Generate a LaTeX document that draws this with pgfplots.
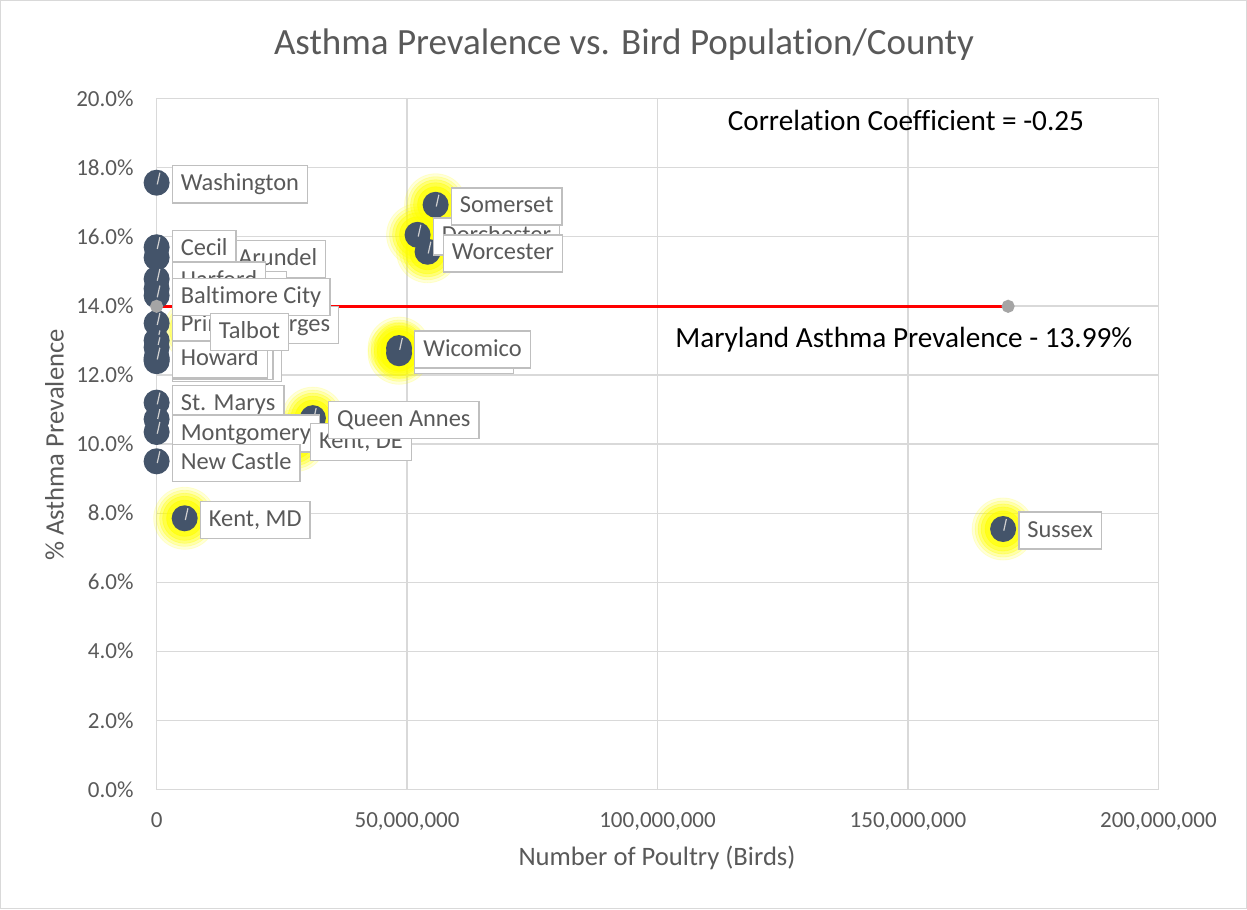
\documentclass[border=0pt]{standalone}
\usepackage{pgfplots}
\pgfplotsset{compat=1.18}
\usepackage{fontspec}
\setmainfont{Carlito}[Ligatures=NoCommon]
\definecolor{navy}{HTML}{44546A}
\definecolor{gridc}{HTML}{D9D9D9}
\definecolor{txt}{HTML}{595959}
\definecolor{lbl}{HTML}{BFBFBF}
\definecolor{dotg}{HTML}{A5A5A5}
\definecolor{glow}{HTML}{FFFF00}
\definecolor{markline}{HTML}{D0D0D0}
\pgfdeclareplotmark{clock}{%
  \pgfpathcircle{\pgfpointorigin}{\pgfplotmarksize}%
  \pgfusepath{fill}%
  \pgfsetstrokecolor{markline}%
  \pgfsetlinewidth{0.6pt}%
  \pgfpathmoveto{\pgfpoint{0.05\pgfplotmarksize}{-0.13\pgfplotmarksize}}%
  \pgfpathlineto{\pgfpoint{0.25\pgfplotmarksize}{0.77\pgfplotmarksize}}%
  \pgfusepath{stroke}%
}
\pgfplotstableread{
x y
169000000 7.54
55700000 16.93
52100000 16.06
54100000 15.57
48400000 12.63
48400000 12.78
27600000 10.10
31200000 10.75
5600000 7.85
7600000 13.30
}\glowdata
\begin{document}
\begin{tikzpicture}
\begin{axis}[
  scale only axis, width=500.5pt, height=345pt,
  xmin=0, xmax=200000000, ymin=0, ymax=20,
  xtick={0,50000000,100000000,150000000,200000000},
  ytick={0,2,4,6,8,10,12,14,16,18,20},
  scaled x ticks=false,
  grid=major, major grid style={gridc, line width=0.6pt},
  axis line style={gridc, line width=0.6pt},
  major tick length=0pt,
  clip=false,
  /pgf/number format/assume math mode=true,
  x tick label style={font=\fontsize{11.5}{13}\selectfont, text=txt, yshift=-8pt,
     /pgf/number format/fixed, /pgf/number format/precision=0, /pgf/number format/1000 sep={,}},
  y tick label style={font=\fontsize{11.5}{13}\selectfont, text=txt, xshift=-8pt},
  yticklabel={\pgfmathprintnumber[fixed,fixed zerofill,precision=1]{\tick}\%},
  every node near coord/.append style={anchor=west, xshift=7.5pt, yshift=-0.8pt, draw=lbl, line width=0.7pt,
     fill=white, text=txt, font=\fontsize{12.2}{14}\selectfont, inner xsep=4.25pt, inner ysep=3.5pt,
     text height=9pt, text depth=2.5pt},
]
% glow
\addplot[only marks, mark=*, color=glow, opacity=0.15, mark size=15.5pt] table[x=x,y=y] {\glowdata};
\addplot[only marks, mark=*, color=glow, opacity=0.2, mark size=14pt] table[x=x,y=y] {\glowdata};
\addplot[only marks, mark=*, color=glow, opacity=0.3, mark size=12.5pt] table[x=x,y=y] {\glowdata};
\addplot[only marks, mark=*, color=glow, opacity=0.4, mark size=11pt] table[x=x,y=y] {\glowdata};
\addplot[only marks, mark=*, color=glow, opacity=0.6, mark size=9pt] table[x=x,y=y] {\glowdata};
% markers
\addplot[only marks, mark=clock, mark size=6.5pt, mark options={fill=navy, draw=navy}] coordinates {
  (0,17.57) (0,15.40) (0,15.70) (0,14.50) (0,14.78) (0,13.50) (0,14.30)
  (7600000,13.30) (0,13.00) (0,12.80) (0,12.40) (0,12.45) (0,12.50) (0,11.20) (0,10.72) (0,10.35) (0,9.50)
  (5600000,7.85) (52100000,16.06) (55700000,16.93) (54100000,15.57) (48400000,12.63) (48400000,12.78)
  (27600000,10.10) (31200000,10.75) (169000000,7.54)
};
% labels
\addplot[only marks, mark=none, point meta=explicit symbolic, nodes near coords] coordinates {
  (0,17.57) [Washington]
  (0,15.40) [Anne Arundel]
  (0,15.70) [Cecil]
  (0,14.50) [Baltimore]
  (0,14.78) [Harford]
  (0,13.50) [Prince Georges]
  (0,14.30) [Baltimore City]
  (0,12.40) [Frederick]
  (0,12.45) [Allegany]
  (0,12.50) [Howard]
  (7600000,13.30) [Talbot]
  (0,11.20) [St. Marys]
  (0,10.35) [Montgomery]
  (0,9.50) [New Castle]
  (5600000,7.85) [{Kent, MD}]
  (52100000,16.06) [Dorchester]
  (55700000,16.93) [Somerset]
  (54100000,15.57) [Worcester]
  (48400000,12.63) [Caroline]
  (48400000,12.78) [Wicomico]
  (27600000,10.10) [{Kent, DE}]
  (31200000,10.75) [Queen Annes]
  (169000000,7.54) [Sussex]
};
% state average line
\addplot[red, line width=1.3pt, mark=*, mark size=2.6pt, mark options={fill=dotg, draw=dotg}] coordinates {(0,13.99) (170000000,13.99)};
% texts
\node[font=\fontsize{18.5}{22}\selectfont, text=txt] at (rel axis cs:0.4665,1.078) {Asthma Prevalence vs. Bird Population/County};
\node[font=\fontsize{13.3}{15}\selectfont, text=txt] at (rel axis cs:0.4995,-0.1) {Number of Poultry (Birds)};
\node[font=\fontsize{13.3}{15}\selectfont, text=txt, rotate=90] at (rel axis cs:-0.102,0.4986) {\% Asthma Prevalence};
\node[font=\fontsize{14.6}{17}\selectfont, text=black] at (rel axis cs:0.748,0.968) {Correlation Coefficient = -0.25};
\node[font=\fontsize{14.6}{17}\selectfont, text=black, anchor=east] at (rel axis cs:0.981,0.651) {Maryland Asthma Prevalence - 13.99\%};
\draw[gridc, line width=0.75pt] (rel axis cs:-0.1556,-0.1725) rectangle (rel axis cs:1.0877,1.1420);
\end{axis}
\end{tikzpicture}
\end{document}
